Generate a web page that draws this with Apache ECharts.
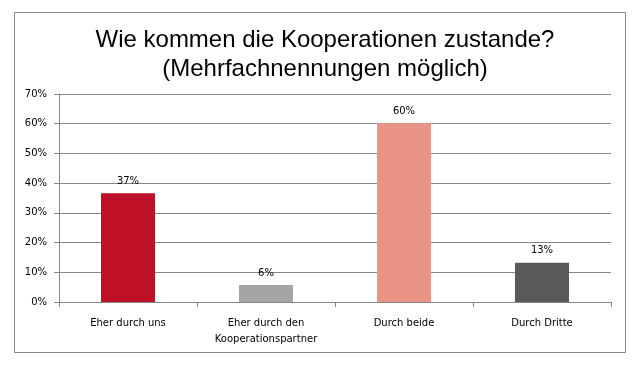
<!DOCTYPE html>
<html>
<head>
<meta charset="utf-8">
<script src="https://cdn.jsdelivr.net/npm/echarts@6/dist/echarts.min.js"></script>
<style>
html,body{margin:0;padding:0;background:#fff;}
#c{width:644px;height:368px;}
</style>
</head>
<body>
<div id="c"></div>
<script>
const categories = ['Eher durch uns', 'Eher durch den\nKooperationspartner', 'Durch beide', 'Durch Dritte'];
const values = [36.6, 5.7, 60.2, 13.2];
const labels = ['37%', '6%', '60%', '13%'];
const colors = ['#BE1128', '#A5A5A5', '#E99286', '#595959'];
const yTicks = [0, 10, 20, 30, 40, 50, 60, 70];

const chart = echarts.init(document.getElementById('c'));
chart.setOption({
  animation: false,
  backgroundColor: '#fff',
  graphic: [{
    type: 'rect',
    shape: {x: 14.5, y: 12.5, width: 611, height: 340},
    style: {fill: 'none', stroke: '#868686', lineWidth: 1},
    z: -1
  }],
  title: {
    text: 'Wie kommen die Kooperationen zustande?\n(Mehrfachnennungen möglich)',
    left: 320,
    textAlign: 'center',
    top: 21,
    textStyle: {
      fontFamily: 'Liberation Sans, Arial, sans-serif',
      fontSize: 24,
      fontWeight: 'normal',
      color: '#000',
      lineHeight: 29
    }
  },
  grid: {left: 59, right: 33, top: 94, bottom: 66},
  xAxis: {
    type: 'category',
    data: categories,
    axisLine: {lineStyle: {color: '#868686', width: 1}},
    axisTick: {show: true, length: 5, lineStyle: {color: '#868686'}, alignWithLabel: false},
    axisLabel: {
      interval: 0,
      margin: 13,
      fontFamily: 'DejaVu Sans, Verdana, sans-serif',
      fontSize: 10,
      color: '#000',
      lineHeight: 16
    }
  },
  yAxis: {
    type: 'value',
    min: 0,
    max: 70,
    interval: 10,
    axisLine: {show: true, lineStyle: {color: '#868686', width: 1}},
    axisTick: {show: true, length: 5, lineStyle: {color: '#868686'}},
    splitLine: {lineStyle: {color: '#868686', width: 1}},
    axisLabel: {
      margin: 12,
      fontFamily: 'DejaVu Sans, Verdana, sans-serif',
      fontSize: 10,
      color: '#000',
      formatter: v => yTicks.includes(v) ? v + '%' : ''
    }
  },
  series: [{
    type: 'bar',
    data: values.map((v, i) => ({value: v, itemStyle: {color: colors[i]}})),
    barWidth: 54,
    label: {
      show: true,
      position: 'top',
      distance: 7,
      fontFamily: 'DejaVu Sans, Verdana, sans-serif',
      fontSize: 10,
      color: '#000',
      formatter: p => labels[p.dataIndex]
    }
  }]
});
</script>
</body>
</html>
